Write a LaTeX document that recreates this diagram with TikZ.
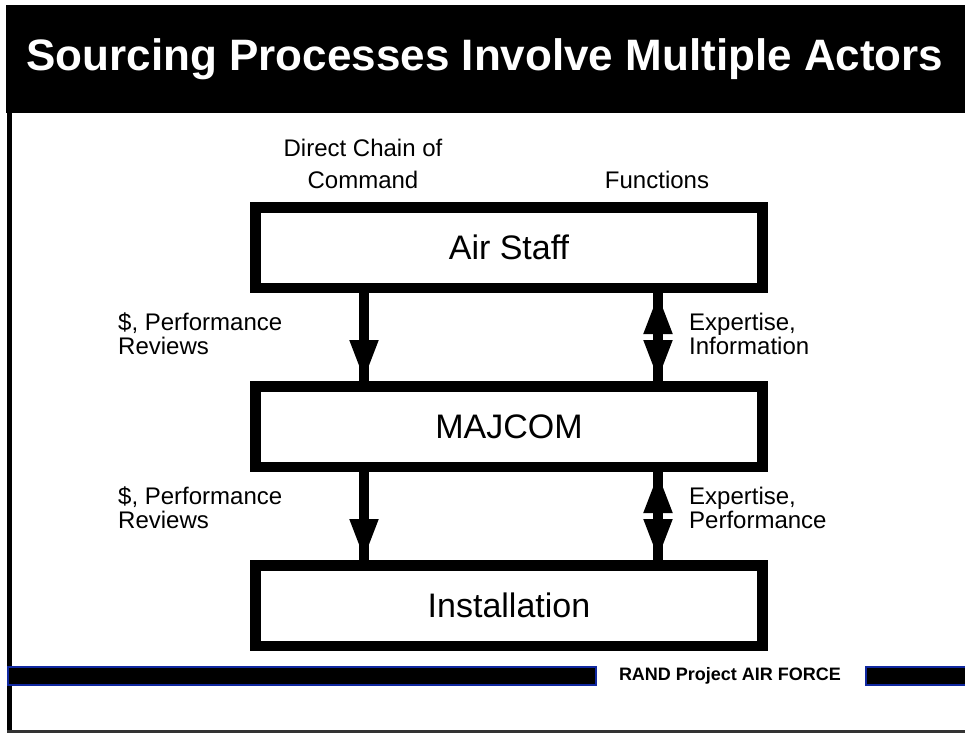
\documentclass[tikz,border=0pt]{standalone}
\usepackage{fontspec}
\setmainfont{Liberation Sans}
\usepackage{tikz}
\usetikzlibrary{positioning}
\usetikzlibrary{arrows.meta}

\definecolor{randblue}{RGB}{16,40,160}

\tikzset{
  actor/.style={draw=black,line width=10.5pt,minimum width=507pt,minimum height=80.5pt,inner sep=0pt,font=\fontsize{34}{38}\selectfont},
  flow/.style={draw=black,line width=10pt,postaction={draw,-{Triangle[width=26pt,length=41pt]}}},
  twoflow/.style={draw=black,line width=10pt,postaction={draw,{Triangle[width=26pt,length=41pt]}-{Triangle[width=26pt,length=41pt]}}},
  flowlabel/.style={text=black,inner sep=0pt,align=left,font=\fontsize{24}{24}\selectfont},
  footbar/.style={draw=randblue,fill=black,line width=2.5pt}
}

\begin{document}
\begin{tikzpicture}[x=1pt,y=-1pt]
\useasboundingbox (0,0) rectangle (965,733);

%FRAME
\fill[black] (6,5) rectangle (965,113);
\fill[black] (7,113) rectangle (12,733);
\fill[black!80] (7,730) rectangle (965,733);
\node[text=white,font=\fontsize{44}{48}\selectfont\bfseries](title)at(485,59){Sourcing Processes Involve Multiple Actors};

%BOXES
\node[actor](airstaff)at(509,247.5){Air Staff};
\node[actor,below=88pt of airstaff](majcom){MAJCOM};
\node[actor,below=88pt of majcom](install){Installation};

%ARROWS
\coordinate (left-x) at (364,0);
\coordinate (right-x) at (658,0);
\draw[flow] (airstaff.south -| left-x) -- (majcom.north -| left-x);
\draw[twoflow] (airstaff.south -| right-x) -- (majcom.north -| right-x);
\draw[flow] (majcom.south -| left-x) -- (install.north -| left-x);
\draw[twoflow] (majcom.south -| right-x) -- (install.north -| right-x);

%LABELs
\node[flowlabel,align=center,font=\fontsize{24}{32}\selectfont](chain-label)at(363,164){Direct Chain of\\Command};
\node[flowlabel](functions-label)at(657,180){Functions};
\node[flowlabel,anchor=west](money1-label)at(118,334){\$, Performance\\Reviews};
\node[flowlabel,anchor=west](expert1-label)at(689,334){Expertise,\\Information};
\node[flowlabel,anchor=west](money2-label)at(118,508){\$, Performance\\Reviews};
\node[flowlabel,anchor=west](expert2-label)at(689,508){Expertise,\\Performance};

%FOOTER
\draw[footbar] (8,667) rectangle (596,685);
\draw[footbar] (866,667) rectangle (968,685);
\node[text=black,font=\fontsize{18}{20}\selectfont\bfseries](rand-label)at(730,676){RAND Project AIR FORCE};

\end{tikzpicture}
\end{document}
